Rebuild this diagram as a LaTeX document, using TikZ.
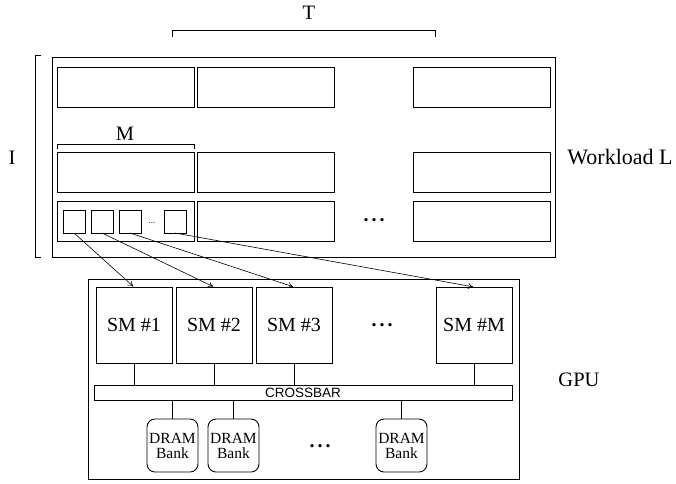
\documentclass[tikz,border=0pt]{standalone}
\usepackage{fontspec}
\setmainfont{Liberation Serif}
\setsansfont{Liberation Sans}
\usetikzlibrary{arrows.meta}
\begin{document}
\begin{tikzpicture}[x=1pt,y=-1pt, line width=0.9pt,
  box/.style={draw, rectangle, inner sep=0pt, outer sep=0pt, anchor=north west},
  cell/.style={box, minimum width=137pt, minimum height=40pt},
  sq/.style={box, minimum width=22pt, minimum height=23pt},
  sm/.style={box, minimum width=76pt, minimum height=76pt, font=\fontsize{20}{22}\selectfont},
  dram/.style={box, rounded corners=8pt, minimum width=51pt, minimum height=53pt, align=center, font=\fontsize{15.5}{15}\selectfont},
  lbl/.style={font=\fontsize{20.5}{22}\selectfont, inner sep=0pt},
  bigdots/.style={font=\fontsize{20}{22}\selectfont\bfseries, inner sep=0pt},
  arr/.style={-{To[length=5pt,width=6pt]}, line width=0.6pt, shorten >=1pt},
  brk/.style={line width=0.7pt}
]
\useasboundingbox (0,0) rectangle (676,483);

% workload
\node[box, minimum width=503pt, minimum height=200pt] (wl) at (52,57) {};
\node[cell] (r1c1) at (57,67) {};
\node[cell] (r1c2) at (197,67) {};
\node[cell] (r1c3) at (413,67) {};
\node[cell] (r2c1) at (57,152) {};
\node[cell] (r2c2) at (197,152) {};
\node[cell] (r2c3) at (413,152) {};
\node[cell] (r3c1) at (57,201) {};
\node[cell] (r3c2) at (197,201) {};
\node[cell] (r3c3) at (413,201) {};
\node[sq] (s1) at (63,210) {};
\node[sq] (s2) at (91,210) {};
\node[sq] (s3) at (119,210) {};
\node[sq] (s4) at (164,210) {};
\node[inner sep=0pt, font=\fontsize{9}{9}\selectfont] (sdots) at (152,223) {...};
\node[bigdots] (wdots) at (374,220) {.\hspace{3pt}.\hspace{3pt}.};

% brackets
\draw[brk] (172,37) -- (172,30) -- (435,30) -- (435,37);
\node[lbl] (T) at (309,13) {T};
\draw[brk] (57,149) -- (57,144) -- (194,144) -- (194,149);
\node[lbl] (M) at (125,134) {M};
\draw[brk] (41,55) -- (35,55) -- (35,257) -- (41,257);
\node[lbl] (I) at (12,158) {I};
\node[lbl, anchor=west, font=\fontsize{22}{24}\selectfont] (wlL) at (567,157) {Workload L};

% GPU
\node[box, minimum width=431pt, minimum height=200pt] (gpu) at (88,279) {};
\node[sm] (sm1) at (96,287) {SM \#1};
\node[sm] (sm2) at (176,287) {SM \#2};
\node[sm] (sm3) at (256,287) {SM \#3};
\node[sm] (smM) at (436,287) {SM \#M};
\node[bigdots] (smdots) at (382,325) {.\hspace{3pt}.\hspace{3pt}.};
\node[box, minimum width=418pt, minimum height=15pt, font=\sffamily\fontsize{13.5}{14}\selectfont] (xbar) at (94,385) {CROSSBAR};
\node[dram] (d1) at (147,419) {DRAM\\Bank};
\node[dram] (d2) at (208,419) {DRAM\\Bank};
\node[dram] (d3) at (376,419) {DRAM\\Bank};
\node[bigdots] (ddots) at (320,446) {.\hspace{3pt}.\hspace{3pt}.};
\node[lbl, anchor=west] (gpuL) at (558,380) {GPU};

\foreach \s in {sm1,sm2,sm3,smM} \draw (\s.south) -- (\s.south |- xbar.north);
\foreach \d in {d1,d2,d3} \draw (\d.north) -- (\d.north |- xbar.south);

\draw[arr] (s1.south) -- (sm1.north);
\draw[arr] (s2.south) -- (sm2.north);
\draw[arr] (s3.south) -- (sm3.north);
\draw[arr] (s4.south) -- (smM.north);
\end{tikzpicture}
\end{document}
